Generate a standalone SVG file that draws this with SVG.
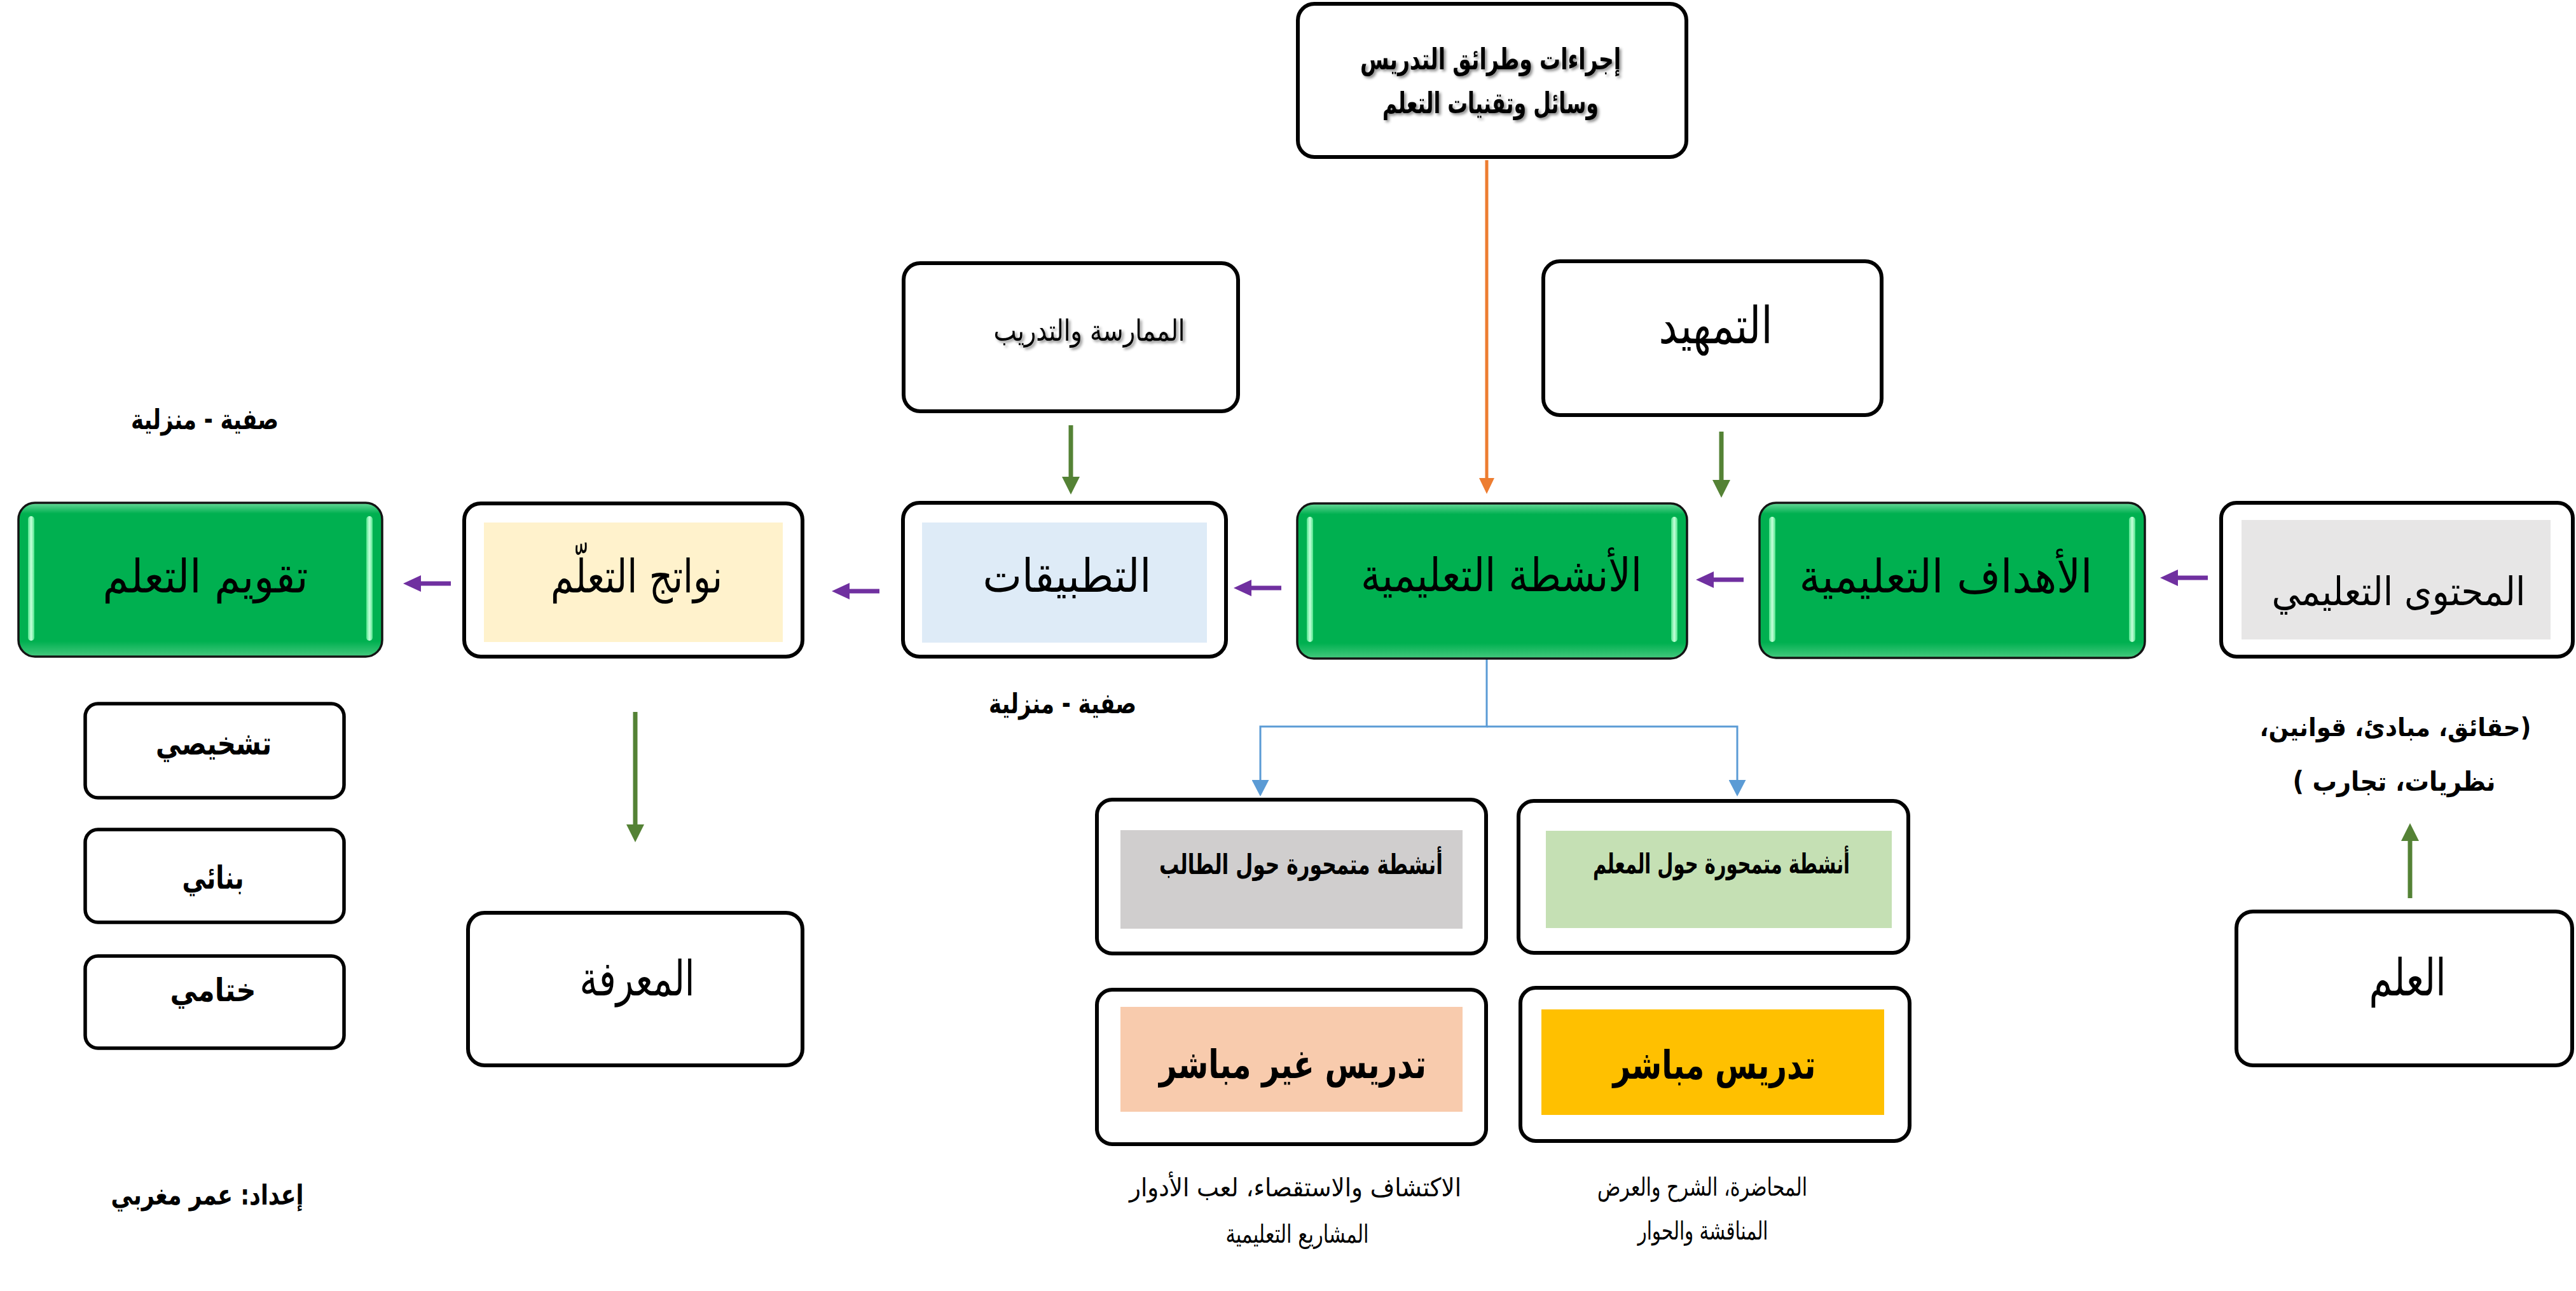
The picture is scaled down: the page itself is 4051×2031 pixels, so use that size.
<svg xmlns="http://www.w3.org/2000/svg" width="4051" height="2031" viewBox="0 0 4051 2031">
<defs>
<style>
.box{fill:#fff;stroke:#000;stroke-width:6}
.sbox{fill:#fff;stroke:#000;stroke-width:5.5}
.gbox{fill:url(#gGrad);stroke:#141414;stroke-width:3.5}
.hl{fill:url(#hlGrad)}
.t{font-family:'DejaVu Sans',sans-serif;fill:#000;text-anchor:middle;direction:rtl}
.b{font-weight:bold}
.sh{filter:url(#sh)}
.pa{stroke:#7030a0;stroke-width:7;fill:none}
.ga{stroke:#548235;stroke-width:7;fill:none}
.oa{stroke:#ed7d31;stroke-width:5;fill:none}
.ba{stroke:#5b9bd5;stroke-width:3;fill:none}
</style>
<linearGradient id="gGrad" x1="0" y1="0" x2="0" y2="1">
<stop offset="0" stop-color="#6ad99a"/>
<stop offset="0.07" stop-color="#00b050"/>
<stop offset="0.9" stop-color="#00b050"/>
<stop offset="1" stop-color="#45c97e"/>
</linearGradient>
<linearGradient id="hlGrad" x1="0" y1="0" x2="1" y2="0">
<stop offset="0" stop-color="#4ee38a"/>
<stop offset="0.5" stop-color="#c8ffdc"/>
<stop offset="1" stop-color="#4ee38a"/>
</linearGradient>
<filter id="sh" x="-10%" y="-30%" width="120%" height="160%">
<feDropShadow dx="3" dy="3" stdDeviation="2" flood-color="#000" flood-opacity="0.45"/>
</filter>
<marker id="mP" markerUnits="userSpaceOnUse" markerWidth="28" markerHeight="26" viewBox="0 0 28 26" refX="0" refY="13" orient="auto"><path d="M0,0 L28,13 L0,26 Z" fill="#7030a0"/></marker>
<marker id="mG" markerUnits="userSpaceOnUse" markerWidth="28" markerHeight="28" viewBox="0 0 28 28" refX="0" refY="14" orient="auto"><path d="M0,0 L28,14 L0,28 Z" fill="#548235"/></marker>
<marker id="mO" markerUnits="userSpaceOnUse" markerWidth="25" markerHeight="24" viewBox="0 0 25 24" refX="0" refY="12" orient="auto"><path d="M0,0 L25,12 L0,24 Z" fill="#ed7d31"/></marker>
<marker id="mB" markerUnits="userSpaceOnUse" markerWidth="26" markerHeight="27" viewBox="0 0 26 27" refX="0" refY="13.5" orient="auto"><path d="M0,0 L26,13.5 L0,27 Z" fill="#5b9bd5"/></marker>
</defs>
<rect width="4051" height="2031" fill="#fff"/>

<g id="connectors">
<line class="oa" x1="2338" y1="252" x2="2338" y2="752" marker-end="url(#mO)"/>
<line class="ga" x1="2707" y1="679" x2="2707" y2="755" marker-end="url(#mG)"/>
<line class="ga" x1="1684" y1="669" x2="1684" y2="750" marker-end="url(#mG)"/>
<line class="ga" x1="999" y1="1120" x2="999" y2="1297" marker-end="url(#mG)"/>
<line class="ga" x1="3790" y1="1413" x2="3790" y2="1323" marker-end="url(#mG)"/>
<line class="pa" x1="3472" y1="909" x2="3425" y2="909" marker-end="url(#mP)"/>
<line class="pa" x1="2742" y1="912" x2="2695" y2="912" marker-end="url(#mP)"/>
<line class="pa" x1="2015" y1="925" x2="1968" y2="925" marker-end="url(#mP)"/>
<line class="pa" x1="1383" y1="930" x2="1336" y2="930" marker-end="url(#mP)"/>
<line class="pa" x1="709" y1="918" x2="662" y2="918" marker-end="url(#mP)"/>
<path class="ba" d="M2338,1036 V1143 H1982 V1227" marker-end="url(#mB)"/>
<path class="ba" d="M2338,1143 H2732 V1227" marker-end="url(#mB)"/>
</g>

<g id="node-procedures">
<rect class="box" x="2041" y="6" width="611" height="241" rx="26"/>
<text class="t b sh" x="2344" y="109" font-size="46" textLength="410" lengthAdjust="spacingAndGlyphs">إجراءات وطرائق التدريس</text>
<text class="t b sh" x="2344" y="178" font-size="46" textLength="340" lengthAdjust="spacingAndGlyphs">وسائل وتقنيات التعلم</text>
</g>

<g id="node-tamhid">
<rect class="box" x="2427" y="411" width="532" height="242" rx="26"/>
<text class="t" x="2698" y="540" font-size="80" textLength="179" lengthAdjust="spacingAndGlyphs">التمهيد</text>
</g>

<g id="node-practice">
<rect class="box" x="1421" y="414" width="526" height="233" rx="26"/>
<text class="t sh" x="1713" y="536" font-size="46" textLength="301" lengthAdjust="spacingAndGlyphs">الممارسة والتدريب</text>
</g>

<g id="node-content">
<rect class="box" x="3493" y="791" width="553" height="242" rx="24"/>
<rect x="3525" y="818" width="486" height="188" fill="#e7e6e6"/>
<text class="t" x="3772" y="952" font-size="62" textLength="399" lengthAdjust="spacingAndGlyphs">المحتوى التعليمي</text>
</g>

<g id="node-objectives">
<rect class="gbox" x="2767" y="791" width="606" height="244" rx="26"/>
<rect class="hl" x="2782" y="813" width="10" height="197" rx="5"/>
<rect class="hl" x="3348" y="813" width="10" height="197" rx="5"/>
<text class="t" x="3060" y="932" font-size="72" textLength="461" lengthAdjust="spacingAndGlyphs">الأهداف التعليمية</text>
</g>

<g id="node-activities">
<rect class="gbox" x="2040" y="792" width="613" height="244" rx="26"/>
<rect class="hl" x="2055" y="813" width="10" height="197" rx="5"/>
<rect class="hl" x="2628" y="813" width="10" height="197" rx="5"/>
<text class="t" x="2361" y="930" font-size="72" textLength="442" lengthAdjust="spacingAndGlyphs">الأنشطة التعليمية</text>
</g>

<g id="node-applications">
<rect class="box" x="1420" y="791" width="508" height="242" rx="26"/>
<rect x="1450" y="822" width="448" height="189" fill="#deebf7"/>
<text class="t" x="1678" y="931" font-size="72" textLength="265" lengthAdjust="spacingAndGlyphs">التطبيقات</text>
</g>

<g id="node-outcomes">
<rect class="box" x="730" y="792" width="532" height="241" rx="26"/>
<rect x="761" y="822" width="470" height="188" fill="#fff2cc"/>
<text class="t" x="1001" y="932" font-size="72" textLength="270" lengthAdjust="spacingAndGlyphs">نواتج التعلّم</text>
</g>

<g id="node-evaluation">
<rect class="gbox" x="29" y="791" width="572" height="242" rx="26"/>
<rect class="hl" x="44" y="812" width="10" height="196" rx="5"/>
<rect class="hl" x="576" y="812" width="10" height="196" rx="5"/>
<text class="t" x="323" y="932" font-size="72" textLength="323" lengthAdjust="spacingAndGlyphs">تقويم التعلم</text>
</g>

<g id="label-class-home-1">
<text class="t b" x="322" y="675" font-size="44" textLength="232" lengthAdjust="spacingAndGlyphs">صفية - منزلية</text>
</g>
<g id="label-class-home-2">
<text class="t b" x="1671" y="1122" font-size="44" textLength="232" lengthAdjust="spacingAndGlyphs">صفية - منزلية</text>
</g>

<g id="label-content-types">
<text class="t b" x="3767" y="1158" font-size="40" textLength="427" lengthAdjust="spacingAndGlyphs">(حقائق، مبادئ، قوانين،</text>
<text class="t b" x="3765" y="1244" font-size="42" textLength="319" lengthAdjust="spacingAndGlyphs">نظريات، تجارب )</text>
</g>

<g id="node-science">
<rect class="box" x="3517" y="1434" width="528" height="242" rx="26"/>
<text class="t" x="3786" y="1566" font-size="80" textLength="121" lengthAdjust="spacingAndGlyphs">العلم</text>
</g>

<g id="node-knowledge">
<rect class="box" x="736" y="1436" width="526" height="240" rx="26"/>
<text class="t" x="1002" y="1566" font-size="76" textLength="181" lengthAdjust="spacingAndGlyphs">المعرفة</text>
</g>

<g id="node-diagnostic">
<rect class="sbox" x="134" y="1107" width="407" height="148" rx="20"/>
<text class="t b" x="336" y="1187" font-size="50" textLength="182" lengthAdjust="spacingAndGlyphs">تشخيصي</text>
</g>
<g id="node-formative">
<rect class="sbox" x="134" y="1305" width="407" height="146" rx="20"/>
<text class="t b" x="335" y="1398" font-size="50" textLength="97" lengthAdjust="spacingAndGlyphs">بنائي</text>
</g>
<g id="node-summative">
<rect class="sbox" x="134" y="1504" width="407" height="145" rx="20"/>
<text class="t b" x="335" y="1575" font-size="50" textLength="135" lengthAdjust="spacingAndGlyphs">ختامي</text>
</g>

<g id="node-student-centered">
<rect class="box" x="1725" y="1258" width="612" height="242" rx="24"/>
<rect x="1762" y="1306" width="538" height="155" fill="#d0cece"/>
<text class="t b" x="2046" y="1375" font-size="44" textLength="446" lengthAdjust="spacingAndGlyphs">أنشطة متمحورة حول الطالب</text>
</g>

<g id="node-teacher-centered">
<rect class="box" x="2388" y="1260" width="613" height="239" rx="24"/>
<rect x="2431" y="1307" width="544" height="153" fill="#c5e0b4"/>
<text class="t b" x="2707" y="1374" font-size="44" textLength="404" lengthAdjust="spacingAndGlyphs">أنشطة متمحورة حول المعلم</text>
</g>

<g id="node-indirect">
<rect class="box" x="1725" y="1557" width="612" height="243" rx="24"/>
<rect x="1762" y="1584" width="538" height="165" fill="#f8cbad"/>
<text class="t b" x="2033" y="1696" font-size="62" textLength="420" lengthAdjust="spacingAndGlyphs">تدريس غير مباشر</text>
</g>

<g id="node-direct">
<rect class="box" x="2391" y="1554" width="612" height="241" rx="24"/>
<rect x="2424" y="1588" width="539" height="166" fill="#ffc000"/>
<text class="t b" x="2696" y="1697" font-size="62" textLength="319" lengthAdjust="spacingAndGlyphs">تدريس مباشر</text>
</g>

<g id="caption-indirect">
<text class="t" x="2037" y="1882" font-size="40" textLength="522" lengthAdjust="spacingAndGlyphs">الاكتشاف والاستقصاء، لعب الأدوار</text>
<text class="t" x="2040" y="1955" font-size="40" textLength="225" lengthAdjust="spacingAndGlyphs">المشاريع التعليمية</text>
</g>

<g id="caption-direct">
<text class="t" x="2677" y="1881" font-size="40" textLength="330" lengthAdjust="spacingAndGlyphs">المحاضرة، الشرح والعرض</text>
<text class="t" x="2678" y="1950" font-size="40" textLength="205" lengthAdjust="spacingAndGlyphs">المناقشة والحوار</text>
</g>

<g id="label-author">
<text class="t b" x="326" y="1895" font-size="44" textLength="303" lengthAdjust="spacingAndGlyphs">إعداد: عمر مغربي</text>
</g>
</svg>
